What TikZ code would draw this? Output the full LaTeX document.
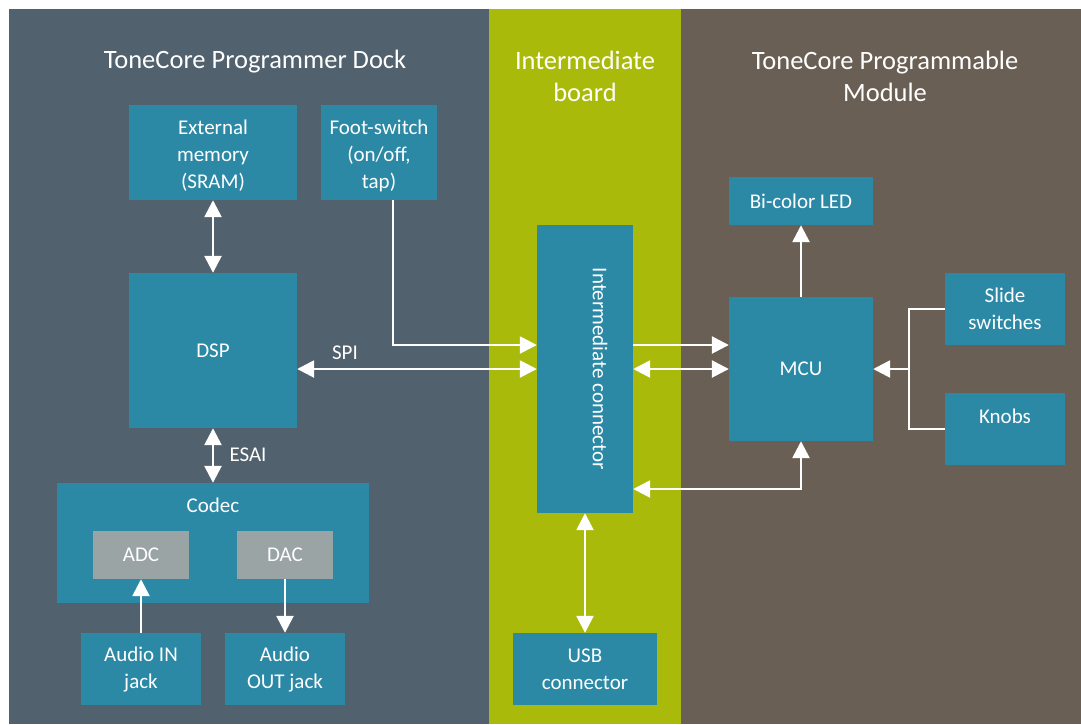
\documentclass[tikz,border=0pt]{standalone}
\usepackage{fontspec}
\setmainfont{Carlito}
\usetikzlibrary{arrows.meta}
\definecolor{slate}{HTML}{51616D}
\definecolor{lime}{HTML}{A9BA0A}
\definecolor{umber}{HTML}{695F54}
\definecolor{teal}{HTML}{2C89A6}
\definecolor{chip}{HTML}{9AA4A4}
\tikzset{
  box/.style={fill=teal, draw=none, inner sep=0pt, align=center, text=white,
    font=\fontsize{21}{27}\selectfont},
  subbox/.style={box, fill=chip},
  txt/.style={inner sep=0pt, align=center, text=white, font=\fontsize{21}{27}\selectfont},
  title/.style={inner sep=0pt, align=center, text=white, font=\fontsize{26.5}{32}\selectfont},
  wire/.style={draw=white, line width=2.6pt},
  arr/.style={wire, -{Triangle[length=17pt,width=17pt]}},
  dbl/.style={wire, {Triangle[length=17pt,width=17pt]}-{Triangle[length=17pt,width=17pt]}},
}
\begin{document}
\begin{tikzpicture}[x=1pt,y=-1pt]
\useasboundingbox (0,0) rectangle (1081,724);
\fill[white] (0,0) rectangle (1081,724);
\fill[slate] (9,9) rectangle (489,724);
\fill[lime] (489,9) rectangle (681,724);
\fill[umber] (681,9) rectangle (1081,724);

\node[title] (t1) at (255,62) {ToneCore Programmer Dock};
\node[title] (t2) at (585,76) {Intermediate\\board};
\node[title] (t3) at (885,76) {ToneCore Programmable\\Module};

% left panel
\node[box, minimum width=168pt, minimum height=95pt] (ext) at (213,152.5) {};
\node[txt] (extt) at (213,155.5) {External\\memory\\(SRAM)};
\node[box, minimum width=116pt, minimum height=95pt] (foot) at (379,152.5) {};
\node[txt] (foott) at (379,155.5) {Foot-switch\\(on/off,\\tap)};
\node[box, minimum width=168pt, minimum height=155pt] (dsp) at (213,350.5) {DSP};
\node[box, minimum width=312pt, minimum height=120pt] (codec) at (213,543) {};
\node[txt] (codect) at (213,505) {Codec};
\node[subbox, minimum width=96pt, minimum height=48pt] (adc) at (141,555) {ADC};
\node[subbox, minimum width=96pt, minimum height=48pt] (dac) at (285,555) {DAC};
\node[box, minimum width=120pt, minimum height=72pt] (ain) at (141,669) {Audio IN\\jack};
\node[box, minimum width=120pt, minimum height=72pt] (aout) at (285,669) {Audio\\OUT jack};

% intermediate
\node[box, minimum width=96pt, minimum height=288pt] (ic) at (585,369) {};
\node[txt, rotate=-90] (ict) at (600,369) {Intermediate connector};
\node[box, minimum width=144pt, minimum height=72pt] (usb) at (585,669) {USB\\connector};

% module
\node[box, minimum width=144pt, minimum height=48pt] (led) at (801,201) {Bi-color LED};
\node[box, minimum width=144pt, minimum height=144pt] (mcu) at (801,369) {MCU};
\node[box, minimum width=120pt, minimum height=72pt] (slide) at (1005,309) {Slide\\switches};
\node[box, minimum width=120pt, minimum height=72pt] (knobs) at (1005,429) {};
\node[txt] (knobst) at (1005,416) {Knobs};

% connectors
\draw[dbl] (ext.south) -- (dsp.north);
\draw[arr] ([xshift=14pt]foot.south) |- ([yshift=24pt]ic.west);
\draw[dbl] (dsp.east |- ic.west) -- (ic.west);
\node[txt] (spi) at (345,353) {SPI};
\draw[dbl] (dsp.south) -- (codec.north);
\node[txt] (esai) at (248,455) {ESAI};
\draw[arr] (ain.north) -- (adc.south);
\draw[arr] (dac.south) -- (aout.north);

\draw[arr] ([yshift=24pt]ic.east) -- ([yshift=24pt]mcu.west);
\draw[dbl] (ic.east) -- (mcu.west);
\draw[dbl] ([yshift=-120pt]ic.east) -| (mcu.south);
\draw[dbl] (ic.south) -- (usb.north);
\draw[arr] (mcu.north) -- (led.south);

\coordinate (jn) at (909,369);
\draw[wire] (slide.west) -| (jn) |- (knobs.west);
\draw[arr] (jn) -- (mcu.east);
\end{tikzpicture}
\end{document}
